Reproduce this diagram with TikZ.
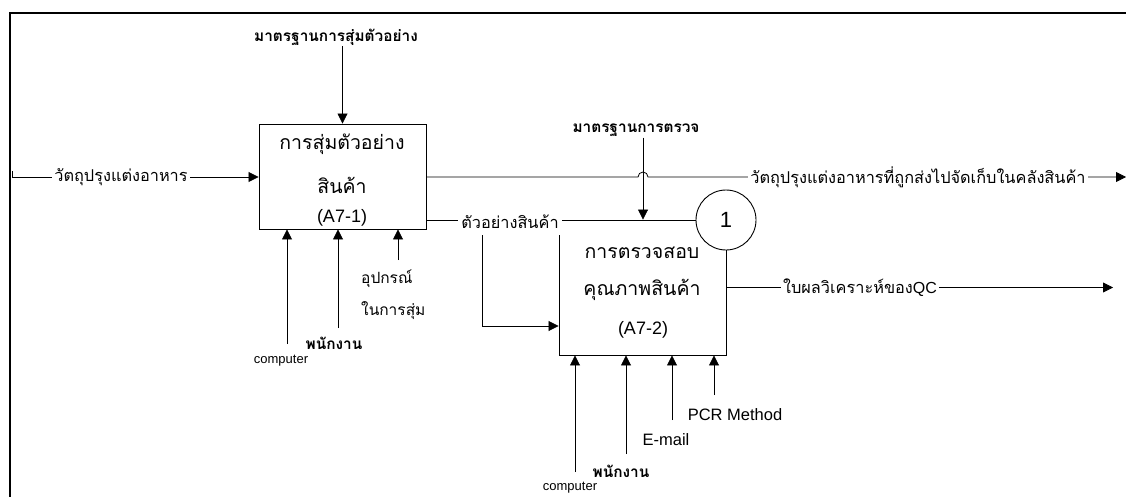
\documentclass[tikz,border=0pt]{standalone}
\usepackage{fontspec}
\setmainfont{Liberation Sans}
\newfontfamily\thai[Script=Thai]{Loma}
\usetikzlibrary{arrows.meta}
\begin{document}
\begin{tikzpicture}[x=1pt,y=-1pt]
\tikzset{
 ln/.style={line width=0.8pt},
 ar/.style={ln,-{Triangle[length=10pt,width=10pt]}},
 bx/.style={draw, line width=0.9pt, inner sep=0pt},
 tb/.style={font=\thai\fontsize{19.5}{22}\selectfont, inner sep=0pt},
 tl/.style={font=\thai\fontsize{16.3}{18}\selectfont, fill=white, inner sep=2pt},
 cl/.style={font=\thai\bfseries\fontsize{15.4}{17}\selectfont, inner sep=1pt},
 en/.style={font=\fontsize{16.5}{18}\selectfont, inner sep=1pt},
 sm/.style={font=\fontsize{13}{15}\selectfont, inner sep=1pt},
}
\useasboundingbox (0,0) rectangle (1126,497);
\fill[white] (0,0) rectangle (1126,497);
% frame
\draw[line width=1.6pt] (10,497) -- (10,13) -- (1126,13);

% boxes
\node[bx, minimum width=167pt, minimum height=105pt] (a1) at (342.5,176.5) {};
\node[bx, minimum width=167pt, minimum height=135pt] (a2) at (642.5,287.5) {};

% helper coordinates
\coordinate (in0) at (12,171);
\coordinate (in1) at (12,177);
\coordinate (o1) at (1126,177);
\coordinate (h1) at (638,177);
\coordinate (y221) at (0,220);
\coordinate (br) at (482,326);
\coordinate (o2) at (1113,287.5);
\coordinate (c2x) at (643,0);

% circle (placeholder for anchors)
\node[circle, minimum size=60pt, inner sep=0pt] (c1) at (726,220) {};

% control 1
\node[cl] (k1) at (336,37) {มาตรฐานการสุ่มตัวอย่าง};
\draw[ar] (k1.south -| a1) -- (a1.north);

% input
\draw[ar] (in0) -- (in1) -- (a1.west |- in1);
\node[tl] (i1) at (121,177) {วัตถุปรุงแต่งอาหาร};

% output 1 with hop
\draw[ar] (a1.east |- o1) -- (h1) arc[start angle=180, end angle=360, radius=5] -- (o1);
\node[tl] (l1) at (918,177) {วัตถุปรุงแต่งอาหารที่ถูกส่งไปจัดเก็บในคลังสินค้า};

% output 2 (sample) to A7-2
\draw[ln] (a1.east |- y221) -- (c1.west);
\node[tl, inner xsep=3pt, inner ysep=6pt] (l2) at (510,222) {ตัวอย่างสินค้า};
\draw[ar] (l2.south -| br) -- (br) -- (a2.west |- br);

% control 2
\node[cl] (k2) at (636,130) {มาตรฐานการตรวจ};
\draw[ar] (k2.south -| c2x) -- (a2.north -| c2x);

% circle on top
\node[circle, draw, line width=0.9pt, fill=white, minimum size=60pt, inner sep=0pt,
      font=\fontsize{22}{24}\selectfont] (c1b) at (c1) {1};

% output A7-2
\draw[ar] (a2.east) -- (o2);
\node[tl] (l3) at (860,287.5) {{\thai ใบผลวิเคราะห์ของ}\fontsize{16}{18}\selectfont\rmfamily QC};

% box texts
\node[tb] (t11) at (342,144) {การสุ่มตัวอย่าง};
\node[tb] (t12) at (342,185) {สินค้า};
\node[font=\fontsize{18}{20}\selectfont, inner sep=0pt] (t13) at (342,218) {(A7-1)};
\node[tb] (t21) at (642,253) {การตรวจสอบ};
\node[tb] (t22) at (642,290) {คุณภาพสินค้า};
\node[font=\fontsize{18}{20}\selectfont, inner sep=0pt] (t23) at (643,330) {(A7-2)};

% mechanisms A7-1
\coordinate (m1) at (287,344);
\coordinate (m2) at (338,328);
\coordinate (m3) at (398,260);
\draw[ar] (m1) -- (a1.south -| m1);
\draw[ar] (m2) -- (a1.south -| m2);
\draw[ar] (m3) -- (a1.south -| m3);
\node[sm] (mc1) at (281,361) {computer};
\node[cl] (mp1) at (334,343) {พนักงาน};
\node[font=\thai\fontsize{15.5}{32}\selectfont, align=left, anchor=north west, inner sep=0pt] (mu1) at (361,270) {อุปกรณ์\\ในการสุ่ม};

% mechanisms A7-2
\coordinate (n1) at (575,472);
\coordinate (n2) at (626,454);
\coordinate (n3) at (672,420);
\coordinate (n4) at (714,395);
\draw[ar] (n1) -- (a2.south -| n1);
\draw[ar] (n2) -- (a2.south -| n2);
\draw[ar] (n3) -- (a2.south -| n3);
\draw[ar] (n4) -- (a2.south -| n4);
\node[sm] (nc) at (570,488) {computer};
\node[cl] (np) at (621,471) {พนักงาน};
\node[en] (ne) at (666,440) {E-mail};
\node[en] (nr) at (735,415) {PCR Method};
\end{tikzpicture}
\end{document}
